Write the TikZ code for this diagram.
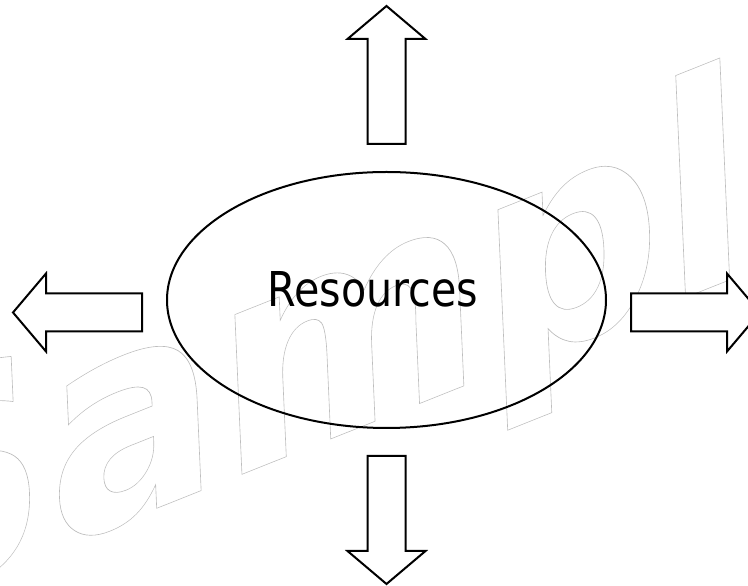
\documentclass[tikz,border=0pt]{standalone}
\usepackage{fontspec}
\usepackage{xcolor}
\usetikzlibrary{shapes.geometric}
\setmainfont{DejaVu Sans}
\newfontfamily\labelfont{DejaVu Sans}[FakeStretch=0.86]
\newfontfamily\markfont{DejaVu Sans Bold}[FakeStretch=0.85]
% outlined letters for the watermark
\newcommand{\outlined}[1]{\special{pdf:literal direct q 1 Tr 0.6 w 0.74 G}#1\special{pdf:literal direct Q}}

\begin{document}
\begin{tikzpicture}[x=1pt,y=1pt,
  line/.style={line width=2pt,line join=miter},
  blockarrow/.style={line,fill=white},
  pics/bigarrow/.style={code={
    \draw[blockarrow] (0,-19) -- (#1-33,-19) -- (#1-33,-39) -- (#1,0)
      -- (#1-33,39) -- (#1-33,19) -- (0,19) -- cycle;}}]
  \useasboundingbox (0,0) rectangle (748,586);
  \node[anchor=base west, inner sep=0pt, yslant=0.355, rotate=2.5,
    font=\markfont\fontsize{297}{300}\selectfont] (mark) at (-131,-37)
    {\outlined{Sample}};
  \node[ellipse, draw, line, minimum width=439pt, minimum height=256pt,
    inner sep=0pt] (res) at (386.5,286) {};
  \node[anchor=base, font=\labelfont\fontsize{48}{56}\selectfont]
    (reslabel) at ([xshift=-13.5pt,yshift=-7pt]res.center) {Resources};
  \pic[rotate=90] (up) at ([yshift=27pt]res.north) {bigarrow=138};
  \pic[rotate=-90] (down) at ([yshift=-27pt]res.south) {bigarrow=128};
  \pic[rotate=180] (left) at ([xshift=-24pt,yshift=-12.5pt]res.west) {bigarrow=129};
  \pic (right) at ([xshift=24pt,yshift=-12.5pt]res.east) {bigarrow=129};
\end{tikzpicture}
\end{document}
